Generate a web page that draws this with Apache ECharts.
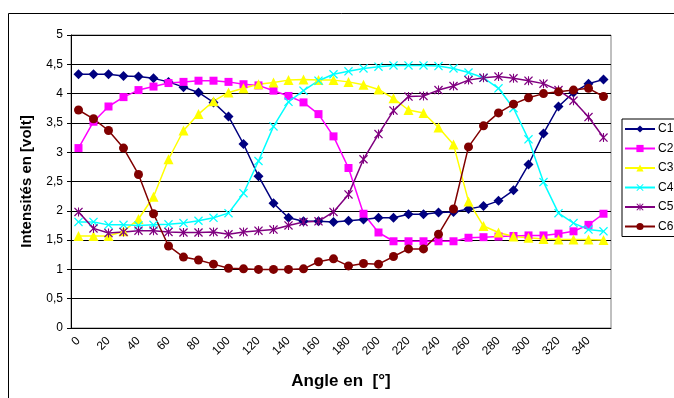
<!DOCTYPE html>
<html>
<head>
<meta charset="utf-8">
<script src="https://cdn.jsdelivr.net/npm/echarts@6/dist/echarts.min.js"></script>
<style>
html,body{margin:0;padding:0;background:#fff;}
#chart{width:674px;height:398px;}
</style>
</head>
<body>
<div id="chart"></div>
<script>
const angles = [0,10,20,30,40,50,60,70,80,90,100,110,120,130,140,150,160,170,180,190,200,210,220,230,240,250,260,270,280,290,300,310,320,330,340,350];
const yTicks = [0,0.5,1,1.5,2,2.5,3,3.5,4,4.5,5];
const seriesNames = ['C1','C2','C3','C4','C5','C6'];
const C1 = [4.33,4.33,4.33,4.30,4.29,4.26,4.20,4.11,4.02,3.85,3.61,3.14,2.59,2.13,1.88,1.82,1.82,1.81,1.83,1.85,1.88,1.88,1.94,1.94,1.97,1.98,2.03,2.08,2.17,2.35,2.79,3.32,3.78,4.02,4.17,4.24];
const C2 = [3.07,3.52,3.78,3.94,4.06,4.12,4.18,4.20,4.22,4.22,4.20,4.16,4.14,4.05,3.96,3.85,3.65,3.27,2.73,1.95,1.63,1.48,1.48,1.48,1.48,1.48,1.54,1.55,1.56,1.57,1.58,1.58,1.61,1.65,1.76,1.95];
const C3 = [1.57,1.57,1.57,1.65,1.86,2.24,2.88,3.37,3.65,3.87,4.02,4.09,4.16,4.19,4.23,4.24,4.23,4.23,4.20,4.15,4.07,3.92,3.72,3.67,3.42,3.13,2.16,1.74,1.63,1.56,1.54,1.52,1.51,1.51,1.51,1.50];
const C4 = [1.81,1.81,1.76,1.76,1.75,1.76,1.77,1.79,1.83,1.88,1.96,2.30,2.85,3.44,3.86,4.05,4.22,4.33,4.38,4.43,4.46,4.48,4.48,4.48,4.47,4.43,4.36,4.27,4.09,3.75,3.22,2.49,1.96,1.79,1.68,1.65];
const C5 = [1.98,1.70,1.62,1.64,1.66,1.66,1.64,1.63,1.63,1.64,1.60,1.64,1.66,1.68,1.75,1.81,1.82,1.98,2.28,2.88,3.31,3.71,3.95,3.96,4.06,4.13,4.23,4.27,4.29,4.26,4.22,4.17,4.06,3.88,3.60,3.25];
const C6 = [3.72,3.57,3.37,3.07,2.62,1.95,1.40,1.21,1.16,1.09,1.02,1.01,1.00,1.00,1.00,1.01,1.13,1.18,1.06,1.10,1.09,1.22,1.35,1.35,1.60,2.03,3.09,3.45,3.67,3.82,3.93,4.00,4.03,4.06,4.09,3.95];

const FONT = '"Liberation Sans", Arial, sans-serif';
const X_PATH = 'path://M1,0 L5,4 L9,0 L10,1 L6,5 L10,9 L9,10 L5,6 L1,10 L0,9 L4,5 L0,1 Z';
const STAR_PATH = 'path://M1,0 L5,4 L9,0 L10,1 L6,5 L10,9 L9,10 L5,6 L1,10 L0,9 L4,5 L0,1 Z M4.4,0 L5.6,0 L5.6,10 L4.4,10 Z';

const styles = [
  {data: C1, color: '#000080', symbol: 'diamond', size: 10},
  {data: C2, color: '#FF00FF', symbol: 'rect', size: 8},
  {data: C3, color: '#FFFF00', symbol: 'triangle', size: 10},
  {data: C4, color: '#00FFFF', symbol: X_PATH, size: 9},
  {data: C5, color: '#800080', symbol: STAR_PATH, size: 9},
  {data: C6, color: '#800000', symbol: 'circle', size: 9}
];

const chart = echarts.init(document.getElementById('chart'), null, {renderer: 'canvas'});
chart.setOption({
  animation: false,
  backgroundColor: '#fff',
  textStyle: {fontFamily: FONT},
  graphic: [
    {type: 'rect', shape: {x: 8.5, y: 13.5, width: 700, height: 420}, style: {fill: 'none', stroke: '#000', lineWidth: 1}, silent: true, z: -10}
  ],
  grid: {left: 71, right: 63, top: 35, bottom: 70, show: true, borderColor: '#808080', borderWidth: 1, backgroundColor: 'transparent'},
  legend: {
    data: seriesNames,
    orient: 'vertical',
    left: 622,
    top: 119,
    padding: [4, 30, 4, 2],
    itemWidth: 30,
    itemHeight: 9,
    itemGap: 7.5,
    borderColor: '#000',
    borderWidth: 1,
    textStyle: {fontSize: 12, color: '#000', fontFamily: FONT, padding: [0, 0, 0, -2]}
  },
  xAxis: {
    type: 'category',
    data: angles.map(String),
    boundaryGap: true,
    name: 'Angle en  [°]',
    nameLocation: 'middle',
    nameGap: 45,
    nameTextStyle: {fontSize: 17, fontWeight: 'bold', color: '#000', fontFamily: FONT},
    axisLine: {lineStyle: {color: '#000', width: 1}},
    axisTick: {interval: 0, length: 4, lineStyle: {color: '#000'}},
    axisLabel: {interval: 1, rotate: 45, fontSize: 12, color: '#000', margin: 11, fontFamily: FONT},
    splitLine: {show: false}
  },
  yAxis: {
    type: 'value',
    min: yTicks[0],
    max: yTicks[yTicks.length - 1],
    interval: 0.5,
    name: 'Intensités en [volt]',
    nameLocation: 'middle',
    nameGap: 37,
    nameTextStyle: {fontSize: 15, fontWeight: 'bold', color: '#000', fontFamily: FONT},
    axisLine: {show: true, lineStyle: {color: '#000', width: 1}},
    axisTick: {show: true, length: 4, lineStyle: {color: '#000'}},
    axisLabel: {fontSize: 12, color: '#000', margin: 8, fontFamily: FONT, formatter: v => String(v).replace('.', ',')},
    splitLine: {show: true, lineStyle: {color: '#000', width: 1}}
  },
  series: styles.map((s, i) => ({
    name: seriesNames[i],
    type: 'line',
    data: s.data,
    symbol: s.symbol,
    symbolSize: s.size,
    showAllSymbol: true,
    lineStyle: {color: s.color, width: 1.5},
    itemStyle: {color: s.color, borderColor: s.color, borderWidth: 0},
    emphasis: {disabled: true}
  }))
});
</script>
</body>
</html>
